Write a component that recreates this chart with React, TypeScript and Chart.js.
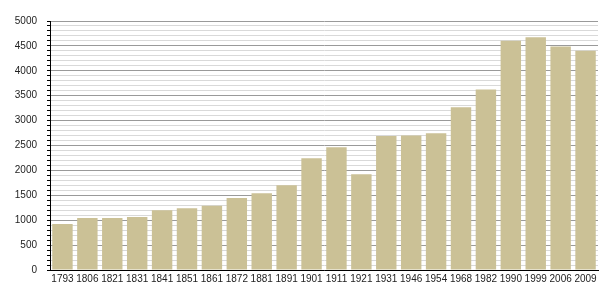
import React, { useEffect, useRef } from "react";
import { Chart, registerables } from "chart.js";

Chart.register(...registerables);

const years = ["1793","1806","1821","1831","1841","1851","1861","1872","1881","1891","1901","1911","1921","1931","1946","1954","1968","1982","1990","1999","2006","2009"];
const population = [925,1045,1045,1065,1200,1242,1290,1445,1543,1703,2244,2465,1924,2692,2700,2745,3267,3627,4603,4676,4489,4403];

export default function App() {
  const ref = useRef<HTMLCanvasElement>(null);
  useEffect(() => {
    const chart = new Chart(ref.current!, {
      type: "bar",
      data: {
        labels: years,
        datasets: [{
          data: population,
          backgroundColor: "#cbc196",
          borderWidth: 0,
          barPercentage: 0.82,
          categoryPercentage: 1,
        }],
      },
      options: {
        animation: false,
        responsive: false,
        layout: { padding: { top: 21, right: 7, left: 0, bottom: 0 } },
        plugins: { legend: { display: false }, tooltip: { enabled: false } },
        scales: {
          x: {
            grid: { display: false, drawTicks: false },
            border: { display: true, color: "#000", width: 1 },
            ticks: {
              autoSkip: false, maxRotation: 0, minRotation: 0, padding: 3,
              color: "#222", font: { family: "Liberation Sans, Arial", size: 10 },
            },
            afterFit: (s: any) => { s.height = 30; },
          },
          y: {
            min: 0, max: 5000,
            grid: {
              color: (ctx: any) => (ctx.tick && ctx.tick.value % 500 === 0 ? "#9a9a9a" : "#d9d9d9"),
              tickColor: "#000",
              tickLength: 3,
              lineWidth: 1,
            },
            border: { display: true, color: "#000", width: 1 },
            ticks: {
              stepSize: 100,
              autoSkip: false,
              padding: 10,
              color: "#222",
              font: { family: "Liberation Sans, Arial", size: 10 },
              callback: (v: any) => (Number(v) % 500 === 0 ? String(v) : ""),
            },
            afterFit: (s: any) => { s.width = 50; },
          },
        },
      },
    });
    return () => chart.destroy();
  }, []);
  return (
    <div style={{ position: "fixed", left: 0, top: 0, width: 605, height: 300, background: "#fff" }}>
      <canvas ref={ref} width={605} height={300} />
    </div>
  );
}
